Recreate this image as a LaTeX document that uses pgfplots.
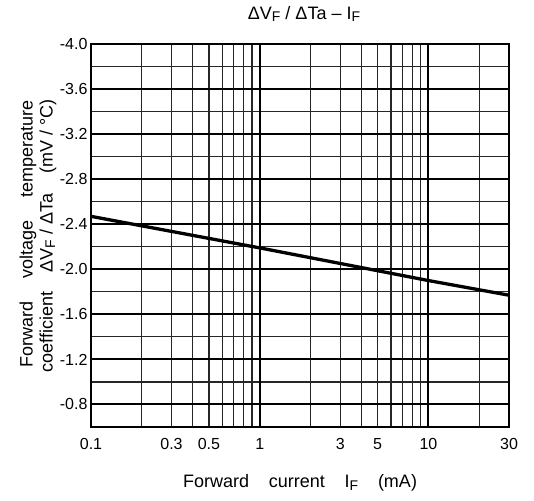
\documentclass[border=0pt]{standalone}
\usepackage{pgfplots}
\pgfplotsset{compat=1.18}
\usepackage{fontspec}
\setmainfont{Liberation Sans}
\newcommand\subF[1]{\raisebox{-0.25ex}{\fontsize{#1}{#1}\selectfont F}}

\begin{document}
\begin{tikzpicture}
\begin{axis}[
  at={(0,0)}, anchor=south west,
  scale only axis, width=418pt, height=383pt,
  xmode=log, xmin=0.1, xmax=30,
  ymin=-4.0, ymax=-0.6, y dir=reverse,
  xtick={0.1,0.3,0.5,1,3,5,10,30},
  xticklabels={0.1,0.3,0.5,1,3,5,10,30},
  minor xtick={0.2,0.3,0.4,0.5,0.6,0.7,0.8,0.9,2,3,4,5,6,7,8,9,20},
  xmajorgrids=false, xminorgrids=true,
  extra x ticks={1,10}, extra x tick labels={},
  extra x tick style={xmajorgrids=true},
  ytick={-4.0,-3.6,-3.2,-2.8,-2.4,-2.0,-1.6,-1.2,-0.8},
  yticklabels={-4.0,-3.6,-3.2,-2.8,-2.4,-2.0,-1.6,-1.2,-0.8},
  minor ytick={-3.8,-3.4,-3.0,-2.6,-2.2,-1.8,-1.4,-1.0},
  ymajorgrids=true, yminorgrids=true,
  major tick length=0pt, minor tick length=0pt,
  major grid style={black, line width=2pt},
  minor grid style={black!85, line width=1.2pt},
  axis line style={line width=2.6pt},
  tick label style={font=\fontsize{16}{17}\selectfont},
  xticklabel style={yshift=-8pt},
  clip=true,
]
\addplot[black, line width=3.3pt] coordinates {(0.1,-2.47) (1,-2.19) (10,-1.90) (30,-1.77)};
\end{axis}
% title and axis labels
\node[font=\fontsize{18}{19}\selectfont] at (213pt,413pt) {ΔV\subF{14} / ΔTa – I\subF{14}};
\node[font=\fontsize{18}{19}\selectfont] at (209pt,-56pt) {Forward\hspace{1.1em}current\hspace{1.1em}I\subF{14}\hspace{1.1em}(mA)};
\node[font=\fontsize{18}{19}\selectfont, rotate=90, inner sep=0pt]
  at (-63pt,193pt) {Forward\hspace{1.3em}voltage\hspace{1.3em}temperature};
\node[font=\fontsize{18}{19}\selectfont, rotate=90, inner sep=0pt]
  at (-43pt,191pt) {coefficient\hspace{1.1em}ΔV\subF{14} / ΔTa\hspace{1.1em}(mV / °C)};
\path[use as bounding box] (-91pt,-73pt) rectangle (443pt,427pt);
\end{tikzpicture}
\end{document}
